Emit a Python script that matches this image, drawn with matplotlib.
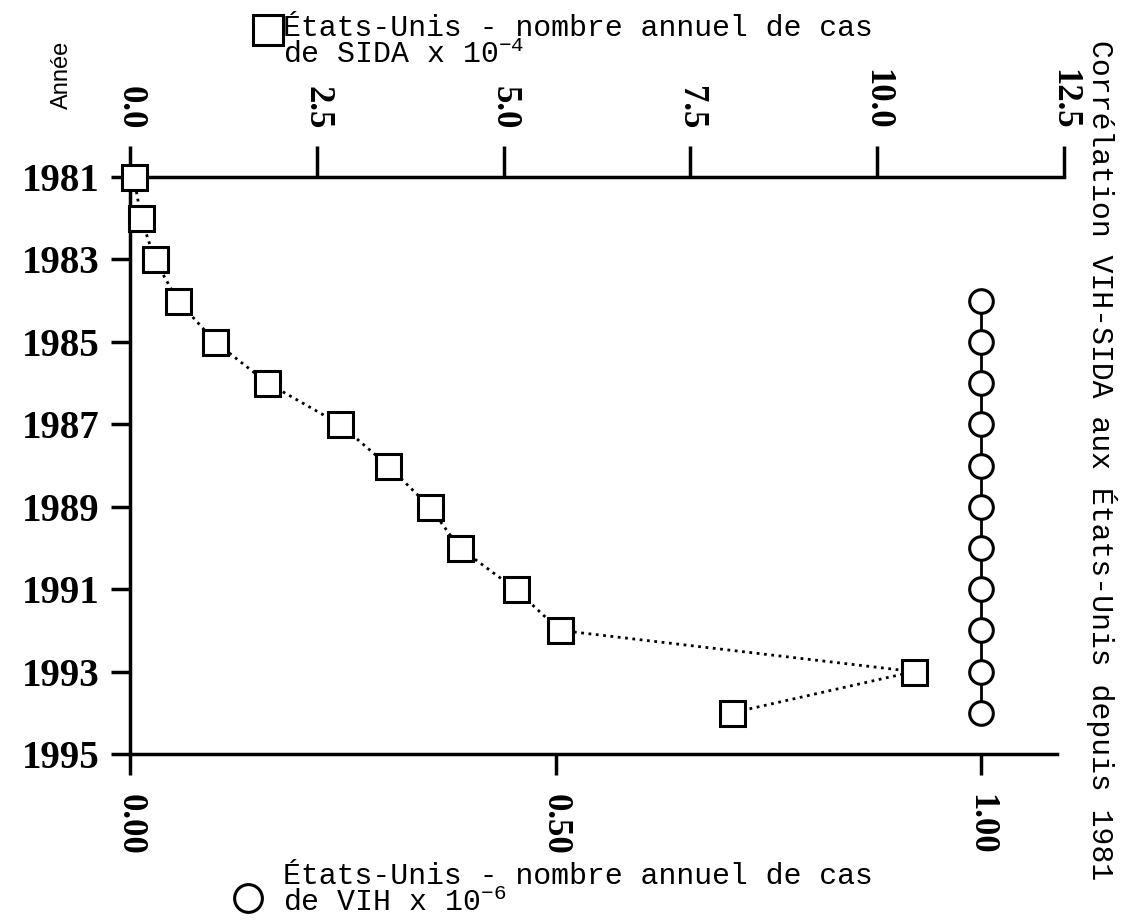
import matplotlib.pyplot as plt

# data
years_sida = [1981, 1982, 1983, 1984, 1985, 1986, 1987, 1988, 1989, 1990, 1991, 1992, 1993, 1994]
sida = [0.05, 0.15, 0.33, 0.64, 1.14, 1.84, 2.81, 3.45, 4.01, 4.41, 5.16, 5.75, 10.49, 8.06]

years_vih = [1984, 1985, 1986, 1987, 1988, 1989, 1990, 1991, 1992, 1993, 1994]
vih = [1.0, 1.0, 1.0, 1.0, 1.0, 1.0, 1.0, 1.0, 1.0, 1.0, 1.0]

year_ticks = [1981, 1983, 1985, 1987, 1989, 1991, 1993, 1995]
sida_ticks = [0.0, 2.5, 5.0, 7.5, 10.0, 12.5]
sida_labels = ['0.0', '2.5', '5.0', '7.5', '10.0', '12.5']
vih_ticks = [0.0, 0.5, 1.0]
vih_labels = ['0.00', '0.50', '1.00']

plt.rcParams['mathtext.fontset'] = 'custom'
plt.rcParams['mathtext.rm'] = 'Liberation Mono'

W, H = 1121, 921
fig = plt.figure(figsize=(W / 100, H / 100), dpi=100)

# axes box in pixels: x 130..1064, y 177..754
x0, x1, ytop, ybot = 130, 1064, 177, 754
ax = fig.add_axes([x0 / W, 1 - ybot / H, (x1 - x0) / W, (ybot - ytop) / H])
ax2 = ax.twiny()

serif = 'Liberation Serif'
mono = 'Liberation Mono'

# SIDA on top axis
ax.plot(sida, years_sida, linestyle=':', color='black', linewidth=2,
        marker='s', markersize=18, markerfacecolor='white',
        markeredgecolor='black', markeredgewidth=2.2, zorder=5, clip_on=False)
ax.set_xlim(0, 12.5)
ax.set_ylim(1995, 1981)
ax.xaxis.tick_top()
ax.set_xticks(sida_ticks)
ax.set_xticklabels(sida_labels, rotation=-90, fontfamily=serif,
                   fontsize=25, fontweight='bold')
ax.set_yticks(year_ticks)
ax.set_yticklabels([str(y) for y in year_ticks], fontfamily=serif,
                   fontsize=28, fontweight='bold')
ax.tick_params(axis='x', direction='out', length=22, width=2.5, pad=12)
ax.tick_params(axis='y', direction='out', length=14, width=2.5, pad=8)
for s in ['right', 'bottom']:
    ax.spines[s].set_visible(False)
for s in ['left', 'top']:
    ax.spines[s].set_linewidth(2.5)

# VIH on bottom axis (851 px per unit)
px_per_vih = 851.0
ax2.plot(vih, years_vih, linestyle='-', color='black', linewidth=2,
         marker='o', markersize=17, markerfacecolor='white',
         markeredgecolor='black', markeredgewidth=2.2, zorder=5)
ax2.set_xlim(0, (x1 - x0) / px_per_vih)
ax2.xaxis.tick_bottom()
ax2.set_xticks(vih_ticks)
ax2.set_xticklabels(vih_labels, rotation=-90, fontfamily=serif,
                    fontsize=25, fontweight='bold')
ax2.tick_params(axis='x', direction='out', length=15, width=2.5, pad=14)
for s in ['right', 'top', 'left']:
    ax2.spines[s].set_visible(False)
ax2.spines['bottom'].set_visible(True)
ax2.spines['bottom'].set_linewidth(2.5)
ax2.spines['bottom'].set_bounds(0, (1057 - x0) / px_per_vih)

# legend-like labels
fs = 21.5
fig.text(283 / W, 1 - 36 / H, 'États-Unis - nombre annuel de cas',
         fontfamily=mono, fontsize=fs, ha='left', va='baseline')
fig.text(283 / W, 1 - 63 / H, 'de SIDA x 10$^{-4}$',
         fontfamily=mono, fontsize=fs, ha='left', va='baseline')
fig.lines.append(plt.Line2D([268 / W], [1 - 30 / H], transform=fig.transFigure,
                            marker='s', markersize=21, markerfacecolor='white',
                            markeredgecolor='black', markeredgewidth=2.2))
fig.text(283 / W, 1 - 884 / H, 'États-Unis - nombre annuel de cas',
         fontfamily=mono, fontsize=fs, ha='left', va='baseline')
fig.text(283 / W, 1 - 911 / H, 'de VIH x 10$^{-6}$',
         fontfamily=mono, fontsize=fs, ha='left', va='baseline')
fig.lines.append(plt.Line2D([248 / W], [1 - 898 / H], transform=fig.transFigure,
                            marker='o', markersize=20, markerfacecolor='white',
                            markeredgecolor='black', markeredgewidth=2.2))

fig.text(62 / W, 1 - 75 / H, 'Année', rotation=90, fontfamily='Liberation Sans',
         fontsize=17, ha='center', va='center')
fig.text(1102 / W, 1 - 460 / H, 'Corrélation VIH-SIDA aux États-Unis depuis 1981',
         rotation=-90, fontfamily=mono, fontsize=fs, ha='center', va='center')

fig.savefig('out.png', dpi=100)
